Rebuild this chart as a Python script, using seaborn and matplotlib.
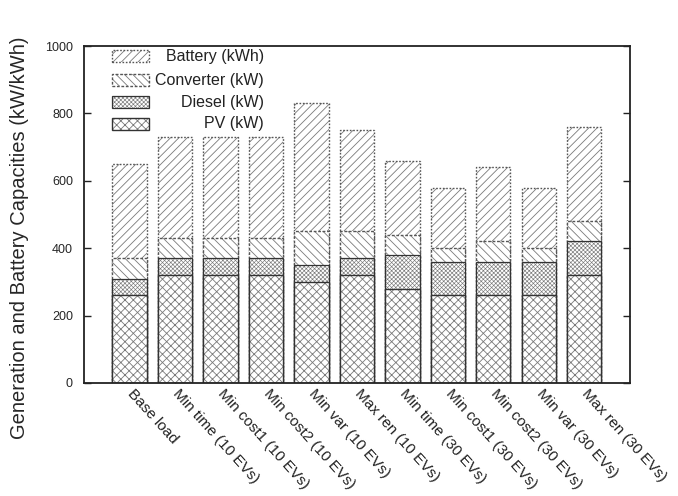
import matplotlib
matplotlib.use("Agg")
import matplotlib.pyplot as plt
from matplotlib.patches import Rectangle
import numpy as np
import pandas as pd
import seaborn as sns

# Scenario names and installed capacities per component
scenarios = [
    "Base load",
    "Min time (10 EVs)", "Min cost1 (10 EVs)", "Min cost2 (10 EVs)",
    "Min var (10 EVs)", "Max ren (10 EVs)",
    "Min time (30 EVs)", "Min cost1 (30 EVs)", "Min cost2 (30 EVs)",
    "Min var (30 EVs)", "Max ren (30 EVs)",
]
pv_kw        = [260, 320, 320, 320, 300, 320, 280, 260, 260, 260, 320]
diesel_kw    = [50, 50, 50, 50, 50, 50, 100, 100, 100, 100, 100]
converter_kw = [60, 60, 60, 60, 100, 80, 60, 40, 60, 40, 60]
battery_kwh  = [280, 300, 300, 300, 380, 300, 220, 180, 220, 180, 280]
y_ticks = [0, 200, 400, 600, 800, 1000]

sns.set_style("white")
plt.rcParams["font.family"] = ["Liberation Sans", "DejaVu Sans"]

# Cumulative tops, drawn from the top layer down so each layer covers the one above
df = pd.DataFrame({
    "scenario": scenarios,
    "pv": np.array(pv_kw),
    "diesel": np.array(pv_kw) + np.array(diesel_kw),
    "converter": np.array(pv_kw) + np.array(diesel_kw) + np.array(converter_kw),
})
df["battery"] = df["converter"] + np.array(battery_kwh)

layers = [
    # column, label, hatch, hatch width, outline color, outline style, outline width
    ("battery", "Battery (kWh)", "////", 0.6, "#555555", (0, (1.2, 1.2)), 1.0),
    ("converter", "Converter (kW)", "\\\\\\\\", 0.6, "#555555", (0, (2, 1.2)), 1.0),
    ("diesel", "Diesel (kW)", "xxxxxxxx", 0.45, "#333333", "-", 0.9),
    ("pv", "PV (kW)", "xxxx", 0.6, "#333333", "-", 1.0),
]
hatch_gray = "#7a7a7a"

fig = plt.figure(figsize=(6.78, 4.96), dpi=100)
ax = fig.add_axes([0.124, 0.228, 0.805, 0.679])

for col, label, hatch, hlw, ec, ls, lw in layers:
    n_before = len(ax.patches)
    with plt.rc_context({"hatch.linewidth": hlw}):
        sns.barplot(data=df, x="scenario", y=col, order=scenarios,
                    color="white", saturation=1, width=0.75, hatch=hatch,
                    edgecolor=hatch_gray, linewidth=0, ax=ax)
    for p in list(ax.patches)[n_before:]:
        ax.add_patch(Rectangle(p.get_xy(), p.get_width(), p.get_height(),
                               fill=False, edgecolor=ec, linestyle=ls,
                               linewidth=lw))

ax.set_xlim(-1, len(scenarios))
ax.set_ylim(0, 1000)
ax.set_yticks(y_ticks)
ax.set_xlabel("")
ax.set_ylabel("Generation and Battery Capacities (kW/kWh)", fontsize=14.5)
ax.yaxis.set_label_coords(-0.1, 0.43)

for s in ax.spines.values():
    s.set_visible(True)
    s.set_color("#222222")
    s.set_linewidth(1.3)

ax.tick_params(axis="y", direction="in", length=5, width=1, left=True,
               right=True, labelsize=9, pad=8, color="#222222")
ax.tick_params(axis="x", direction="in", length=3, width=1, bottom=True,
               labelsize=11, pad=6, color="#222222")
ax.set_xticks(range(len(scenarios)))
ax.set_xticklabels(scenarios, rotation=-48, ha="left", va="center",
                   rotation_mode="anchor")
for t in ax.get_xticklabels():
    t.set_color("#222222")

# Legend: swatches on the left, right-aligned labels
rows_y = [0.970, 0.899, 0.834, 0.769]
for (col, label, hatch, hlw, ec, ls, lw), ry in zip(layers, rows_y):
    with plt.rc_context({"hatch.linewidth": hlw}):
        ax.add_patch(Rectangle((0.051, ry - 0.018), 0.068, 0.036,
                               transform=ax.transAxes, facecolor="white",
                               hatch=hatch, edgecolor=hatch_gray, linewidth=0,
                               clip_on=False))
    ax.add_patch(Rectangle((0.051, ry - 0.018), 0.068, 0.036,
                           transform=ax.transAxes, fill=False, edgecolor=ec,
                           linestyle=ls, linewidth=lw, clip_on=False))
    ax.text(0.330, ry, label, transform=ax.transAxes, ha="right",
            va="center", fontsize=11.5, color="#222222")

fig.savefig("out.png", dpi=100)
